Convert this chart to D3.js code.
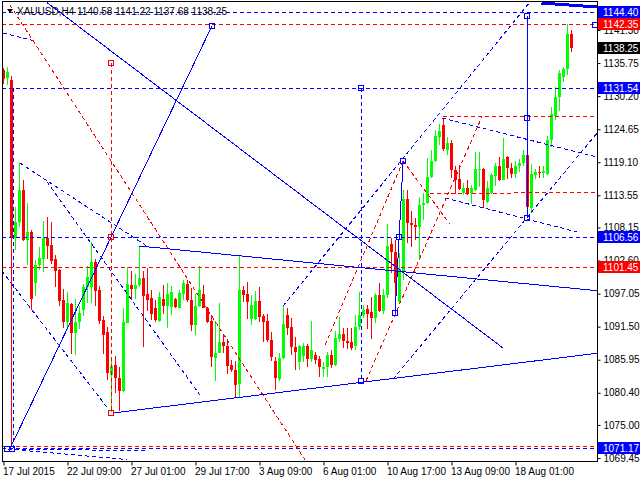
<!DOCTYPE html>
<html>
<head>
<meta charset="utf-8">
<script src="https://cdn.jsdelivr.net/npm/d3@7"></script>
<style>
  body { margin: 0; background: #fff; }
  svg { display: block; font-family: "Liberation Sans", Arial, sans-serif; }
</style>
</head>
<body>
<svg width="640" height="480"></svg>
<script>
// XAUUSD H4 candles, one entry per bar (bar 0 = 17 Jul 2015)
const opens = [1134.6,1133.2,1132.9,1106.4,1109.1,1114.4,1106.0,1107.4,1098.8,1101.9,1102.9,1106.4,1105.2,1102.9,1101.0,1095.9,1092.2,1095.3,1090.5,1092.2,
  1094.3,1098.2,1098.2,1102.4,1097.7,1092.6,1090.6,1083.4,1085.1,1082.9,1080.7,1092.1,1098.5,1097.8,1098.5,1099.6,1096.9,1096.3,1094.7,1092.4,
  1096.1,1095.0,1094.8,1096.1,1094.7,1097.0,1098.7,1096.0,1091.7,1095.0,1097.0,1094.7,1092.4,1086.3,1087.1,1089.0,1088.3,1085.1,1084.3,1081.9,
  1097.6,1096.9,1092.8,1092.8,1095.8,1093.3,1092.4,1089.2,1085.8,1082.7,1086.2,1093.5,1091.4,1088.1,1085.6,1086.5,1088.3,1086.0,1086.7,1086.0,
  1084.4,1084.8,1086.8,1085.1,1089.4,1090.3,1089.1,1089.0,1088.3,1091.4,1093.4,1094.5,1094.0,1093.0,1096.8,1094.1,1096.8,1105.3,1104.0,1095.6,
  1100.8,1113.0,1108.9,1108.6,1108.3,1112.0,1112.2,1116.6,1119.3,1123.4,1125.3,1121.2,1122.3,1117.8,1116.3,1114.0,1114.7,1113.9,1114.4,1117.8,
  1118.0,1112.4,1113.9,1116.8,1118.4,1116.2,1119.9,1118.1,1117.1,1118.4,1118.9,1120.4,1111.5,1117.0,1117.5,1117.3,1117.2,1122.8,1126.8,1130.0,
  1133.4,1134.8,1140.58];
const highs = [1134.9,1135.1,1133.5,1111.6,1119.0,1116.1,1112.3,1107.7,1102.7,1104.9,1109.2,1109.9,1109.0,1103.5,1101.2,1097.8,1097.3,1095.5,1096.2,1094.9,
  1098.7,1101.6,1105.7,1102.9,1098.3,1093.3,1091.5,1086.4,1086.5,1084.8,1094.6,1101.5,1100.8,1100.3,1104.9,1100.8,1101.3,1097.7,1096.0,1097.4,
  1098.5,1098.8,1098.3,1096.3,1097.6,1099.4,1099.3,1098.0,1097.0,1101.6,1098.5,1094.8,1093.5,1092.4,1095.4,1090.3,1089.5,1085.9,1085.8,1103.3,
  1098.4,1099.0,1096.8,1097.5,1098.2,1093.7,1093.6,1090.6,1086.4,1087.1,1095.0,1094.7,1092.9,1089.8,1088.4,1088.8,1088.6,1092.5,1087.2,1086.5,
  1085.6,1087.2,1087.6,1090.8,1093.2,1091.2,1091.3,1091.2,1093.5,1097.4,1095.1,1095.1,1096.5,1097.1,1098.8,1097.9,1108.7,1106.4,1106.0,1103.9,
  1114.5,1114.4,1110.9,1109.7,1113.3,1113.9,1119.8,1121.2,1124.5,1125.6,1126.4,1123.4,1122.8,1118.5,1118.6,1115.6,1116.1,1115.3,1120.8,1120.8,
  1118.2,1116.0,1117.3,1118.9,1120.0,1123.1,1120.2,1118.9,1119.3,1119.6,1121.2,1121.2,1118.8,1118.0,1118.4,1118.4,1123.5,1128.4,1131.8,1134.6,
  1135.1,1142.35,1141.22];
const lows = [1132.2,1132.1,1106.0,1104.4,1108.3,1105.8,1101.9,1094.3,1096.6,1101.0,1100.7,1102.9,1102.0,1098.2,1094.9,1091.3,1090.9,1086.9,1086.8,1091.1,
  1093.3,1095.5,1095.5,1094.9,1091.9,1086.9,1082.5,1077.2,1080.4,1077.4,1080.5,1092.1,1096.0,1096.2,1098.2,1088.1,1094.2,1092.6,1092.3,1092.3,
  1093.6,1091.3,1093.5,1094.6,1094.7,1096.0,1095.7,1090.8,1090.1,1094.8,1094.6,1092.1,1084.8,1082.3,1087.1,1087.0,1083.6,1083.9,1079.7,1079.7,
  1095.6,1092.8,1091.8,1092.6,1092.3,1089.0,1089.0,1085.8,1080.8,1082.3,1086.1,1090.1,1086.7,1084.3,1084.2,1085.6,1084.8,1085.6,1085.2,1083.1,
  1083.0,1083.1,1084.6,1084.9,1088.9,1087.9,1087.7,1087.6,1087.6,1090.9,1093.0,1091.1,1089.5,1092.1,1093.9,1093.6,1096.3,1100.5,1093.8,1095.5,
  1099.3,1105.5,1104.9,1106.0,1102.7,1109.4,1112.1,1116.5,1119.1,1122.0,1121.0,1120.4,1116.5,1113.8,1114.4,1113.6,1113.6,1112.1,1114.3,1115.0,
  1111.5,1112.3,1113.8,1115.1,1116.0,1116.1,1116.3,1116.5,1116.5,1117.5,1118.4,1110.0,1110.5,1116.3,1116.5,1116.5,1117.0,1121.7,1126.2,1127.7,
  1132.6,1133.7,1137.68];
const closes = [1133.1,1134.3,1106.4,1109.1,1114.4,1106.0,1107.4,1096.2,1101.9,1103.0,1106.4,1105.0,1102.5,1100.8,1095.8,1092.2,1095.5,1090.5,1092.3,1093.8,
  1098.2,1099.8,1102.4,1097.5,1092.5,1090.1,1083.7,1084.9,1082.9,1080.7,1092.3,1098.7,1097.8,1098.5,1099.6,1096.6,1096.0,1093.7,1092.6,1096.4,
  1095.0,1097.0,1097.4,1094.8,1097.1,1098.8,1096.0,1091.7,1095.0,1097.7,1094.7,1092.2,1086.4,1087.1,1089.0,1088.2,1084.9,1084.2,1081.7,1097.6,
  1096.8,1095.7,1095.1,1095.8,1093.1,1092.3,1089.2,1086.4,1082.8,1086.2,1091.9,1091.3,1088.1,1087.2,1088.3,1088.3,1086.1,1087.6,1085.9,1084.7,
  1084.8,1086.8,1085.1,1089.6,1090.3,1089.1,1088.8,1088.0,1091.4,1093.4,1094.3,1093.6,1093.0,1096.8,1094.1,1096.8,1105.0,1104.0,1098.8,1101.1,
  1113.0,1108.9,1108.5,1108.3,1112.0,1112.3,1116.7,1119.3,1123.5,1124.3,1121.3,1122.3,1117.8,1116.2,1114.6,1114.8,1113.7,1114.7,1118.0,1118.0,
  1112.8,1114.7,1116.9,1118.4,1116.1,1119.7,1118.1,1117.1,1118.5,1119.0,1120.3,1111.6,1117.2,1117.5,1117.3,1117.7,1122.8,1127.2,1130.0,1134.0,
  1134.8,1140.6,1138.25];

// axis labels
const timeIdx = [0, 16, 32, 48, 64, 80, 96, 112, 128];
const timeLabels = ['17 Jul 2015', '22 Jul 09:00', '27 Jul 01:00', '29 Jul 17:00', '3 Aug 09:00',
  '6 Aug 01:00', '10 Aug 17:00', '13 Aug 09:00', '18 Aug 01:00'];
const priceTicks = [1141.30, 1135.75, 1130.20, 1124.65, 1119.10, 1113.55, 1108.15,
  1102.60, 1097.05, 1091.50, 1085.95, 1080.40, 1075.00, 1069.45];

// horizontal levels [price, colour, has label]
const levels = [[1144.40, 'blue', true], [1142.35, 'red', true], [1131.54, 'blue', true],
  [1106.56, 'blue', true], [1101.45, 'red', true], [1071.17, 'blue', true], [1071.55, 'red', false]];
const bidPrice = 1138.25;

// drawn objects as [bar1, price1, bar2, price2]
const blueSolid = [[1.6, 1071.0, 52.1, 1141.97], [10.9, 1145.9, 124.9, 1087.9], [33.9, 1105.04, 148.4, 1097.54],
  [27.25, 1077.0, 148.4, 1087.03], [130.9, 1143.65, 130.9, 1109.74], [99.9, 1119.31, 98.9, 1106.55],
  [98.9, 1106.55, 97.9, 1093.79]];
const blueDashed = [[-0.1, 1140.8, 7.9, 1139.45], [-0.4, 1100.84, 26.6, 1077.34], [4.1, 1118.97, 36.6, 1104.7],
  [10.9, 1115.78, 49.1, 1080.03], [1.1, 1070.96, 30.9, 1069.2], [1.1, 1070.96, 35.9, 1070.68],
  [69.9, 1094.97, 131.4, 1145.83], [97.4, 1082.71, 148.4, 1124.0], [109.6, 1126.53, 148.4, 1119.98],
  [110.4, 1113.1, 143.4, 1107.39], [2.4, 1131.54, 2.4, 1071.17], [89.4, 1131.54, 89.4, 1082.38]];
const redSolid = [[1.9, 1131.54, 1.9, 1071.55]];
const redDashed = [[1.6, 1145.5, 75.4, 1069.12], [26.9, 1135.76, 26.9, 1077.01], [80.4, 1088.42, 99.9, 1119.31],
  [90.6, 1082.38, 119.6, 1126.7], [99.9, 1119.31, 111.6, 1108.73], [109.9, 1126.7, 148.4, 1126.7],
  [106.6, 1113.77, 148.4, 1114.11]];
const thickBlue = [[134.5, 1145.83, 148.4, 1145.16]];
const blueBoxes = [[52.1, 1141.97], [130.9, 1143.65], [130.9, 1126.53], [130.9, 1109.74], [99.9, 1119.31],
  [98.9, 1106.55], [97.9, 1093.79], [0.9, 1070.96], [2.1, 1070.96], [89.4, 1131.54], [89.4, 1082.38], [147.9, 1142.14]];
const redBoxes = [[26.9, 1135.76], [26.9, 1106.55], [26.9, 1077.01]];

const colors = { blue: '#0000ff', red: '#ff0000', up: '#00ff00', down: '#ff0000' };
const font = '"Liberation Sans", Arial, sans-serif';

const svg = d3.select('svg');

const x = d3.scaleLinear().domain([0, 142]).range([3.5, 571.5]);
const y = d3.scaleLinear().domain([1068.95, 1146.0]).range([461, 2]);

svg.append('clipPath').attr('id', 'plot')
  .append('rect').attr('x', 2).attr('y', 2).attr('width', 595).attr('height', 459);

const g = svg.append('g').attr('clip-path', 'url(#plot)').attr('shape-rendering', 'crispEdges');

// candles
const bars = d3.range(opens.length).map(i => ({ i, o: opens[i], h: highs[i], l: lows[i], c: closes[i] }));
const barColor = d => d.c >= d.o ? colors.up : colors.down;

g.selectAll('line.wick').data(bars)
  .enter().append('line')
    .attr('class', 'wick')
    .attr('x1', d => x(d.i)).attr('x2', d => x(d.i))
    .attr('y1', d => y(d.h)).attr('y2', d => y(d.l))
    .attr('stroke', barColor);

g.selectAll('rect.body').data(bars)
  .enter().append('rect')
    .attr('class', 'body')
    .attr('x', d => x(d.i) - 1.5)
    .attr('width', 3)
    .attr('y', d => y(Math.max(d.o, d.c)))
    .attr('height', d => Math.max(1, Math.abs(y(d.o) - y(d.c))))
    .attr('fill', barColor);

// horizontal levels across the whole chart
g.selectAll('line.level').data(levels)
  .enter().append('line')
    .attr('x1', 2).attr('x2', 597)
    .attr('y1', d => Math.round(y(d[0])) + 0.5).attr('y2', d => Math.round(y(d[0])) + 0.5)
    .attr('stroke', d => colors[d[1]])
    .attr('stroke-dasharray', '4,3');

const drawSegs = (data, color, dash, width) => {
  g.append('g').selectAll('line').data(data)
    .enter().append('line')
      .attr('x1', d => x(d[0])).attr('y1', d => y(d[1]))
      .attr('x2', d => x(d[2])).attr('y2', d => y(d[3]))
      .attr('stroke', color)
      .attr('stroke-width', width || 1)
      .attr('stroke-dasharray', dash);
};
drawSegs(blueDashed, colors.blue, '4,3');
drawSegs(redDashed, colors.red, '4,3');
drawSegs(redSolid, colors.red, null);
drawSegs(blueSolid, colors.blue, null);
drawSegs(thickBlue, colors.blue, null, 3);

const drawBoxes = (data, color) => {
  g.append('g').selectAll('rect').data(data)
    .enter().append('rect')
      .attr('x', d => Math.round(x(d[0])) - 2.5)
      .attr('y', d => Math.round(y(d[1])) - 2.5)
      .attr('width', 5).attr('height', 5)
      .attr('fill', 'none')
      .attr('stroke', color);
};
drawBoxes(blueBoxes, colors.blue);
drawBoxes(redBoxes, colors.red);

// frame
svg.append('rect')
  .attr('x', 2.5).attr('y', 1.5).attr('width', 595).attr('height', 460)
  .attr('fill', 'none').attr('stroke', '#000').attr('shape-rendering', 'crispEdges');

// price axis
svg.append('g')
  .attr('transform', 'translate(597.5,0)')
  .call(d3.axisRight(y).tickValues(priceTicks).tickSize(3).tickFormat(d3.format('.2f')))
  .call(a => a.select('.domain').remove())
  .call(a => a.selectAll('line').attr('stroke', '#000'))
  .call(a => a.selectAll('text').attr('x', 6).attr('fill', '#000')
    .style('font-family', font).style('font-size', '10px'));

// time axis
svg.append('g')
  .attr('transform', 'translate(0,461.5)')
  .call(d3.axisBottom(x).tickValues(timeIdx).tickSize(4).tickFormat((d, k) => timeLabels[k]))
  .call(a => a.select('.domain').remove())
  .call(a => a.selectAll('line').attr('stroke', '#000'))
  .call(a => a.selectAll('text').attr('text-anchor', 'start').attr('x', -1).attr('y', 6)
    .attr('fill', '#000').style('font-family', font).style('font-size', '10px'));

// price labels on the right
const tags = levels.filter(d => d[2]).map(d => ({ p: d[0], fill: colors[d[1]] }))
  .concat([{ p: bidPrice, fill: '#000' }]);
const tagG = svg.append('g').selectAll('g').data(tags)
  .enter().append('g')
    .attr('transform', d => `translate(598,${Math.round(y(d.p))})`);
tagG.append('rect')
  .attr('x', 0).attr('y', -6).attr('width', 42).attr('height', 12)
  .attr('fill', d => d.fill).attr('shape-rendering', 'crispEdges');
tagG.append('text')
  .attr('x', 5).attr('y', 4)
  .attr('fill', '#fff')
  .style('font-family', font).style('font-size', '10px')
  .text(d => d3.format('.2f')(d.p));

// header
svg.append('path').attr('d', 'M7,9 L13,9 L10,13 Z').attr('fill', '#000');
svg.append('text')
  .attr('x', 17).attr('y', 15)
  .style('font-family', font).style('font-size', '10px')
  .text(`XAUUSD,H4  ${opens[142].toFixed(2)} ${highs[142].toFixed(2)} ${lows[142].toFixed(2)} ${closes[142].toFixed(2)}`);
</script>
</body>
</html>
